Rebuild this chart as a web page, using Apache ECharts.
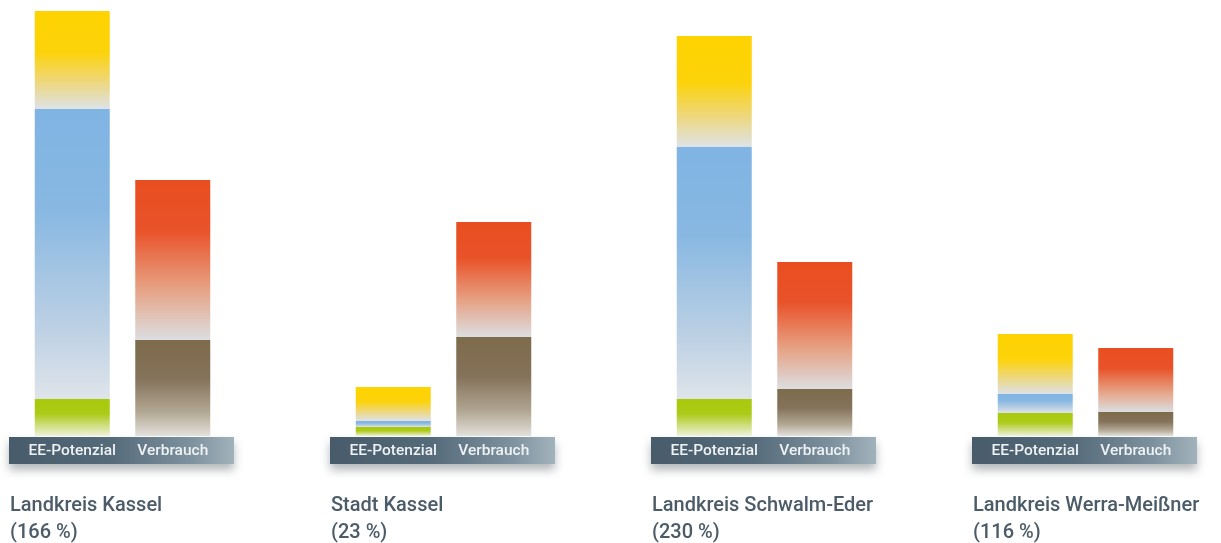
<!DOCTYPE html>
<html>
<head>
<meta charset="utf-8">
<script src="https://cdn.jsdelivr.net/npm/echarts@6/dist/echarts.min.js"></script>
<style>
  html, body { margin: 0; padding: 0; background: #ffffff; }
  #chart { width: 1221px; height: 543px; }
</style>
</head>
<body>
<div id="chart"></div>
<script>
// Regionen und Balkenkategorien
const regionen = ['Landkreis Kassel', 'Stadt Kassel', 'Landkreis Schwalm-Eder', 'Landkreis Werra-Meißner'];
const kategorien = ['EE-Potenzial', 'Verbrauch'];

// EE-Potenzial, gestapelt von unten nach oben
const eeGruen = [37, 9, 37, 23];
const eeBlau  = [290, 6, 252, 19];
const eeGelb  = [98, 34, 111, 60];

// Verbrauch, gestapelt von unten nach oben
const verbrauchBraun = [96, 99, 47, 24];
const verbrauchRot   = [160, 115, 127, 64];

const yMax = 430;

function verlauf(stops) {
  return { type: 'linear', x: 0, y: 0, x2: 0, y2: 1,
    colorStops: stops.map(s => ({ offset: s[0], color: s[1] })) };
}

const farben = {
  gelb:  verlauf([[0, '#fed300'], [0.42, '#fcd30a'], [0.72, '#eed77c'], [1, '#dde2e7']]),
  blau:  verlauf([[0, '#80b4e3'], [0.35, '#88b8e2'], [0.75, '#bcd0e4'], [1, '#dee4ea']]),
  gruen: verlauf([[0, '#a8ca0a'], [0.4, '#acca18'], [0.75, '#d3e08a'], [1, '#eef1dc']]),
  rot:   verlauf([[0, '#e84e1f'], [0.32, '#e9532a'], [0.68, '#e6a284'], [1, '#dcdee1']]),
  braun: verlauf([[0, '#7e6b4b'], [0.4, '#84725a'], [0.75, '#b2a793'], [1, '#e3e1dc']])
};

const gridLefts = [22, 343, 664, 985];
const gridWidth = 201;
const gridTop = 6;
const gridBottom = 107;

const grids = [], xAxes = [], yAxes = [], series = [], titles = [], graphics = [];

regionen.forEach((name, i) => {
  grids.push({ left: gridLefts[i], width: gridWidth, top: gridTop, bottom: gridBottom });
  xAxes.push({
    type: 'category', gridIndex: i, data: kategorien, z: 10,
    axisLine: { show: false }, axisTick: { show: false },
    axisLabel: {
      color: '#eef2f4', fontFamily: 'Roboto', fontWeight: 500, fontSize: 15.5,
      margin: 15, verticalAlign: 'middle', interval: 0
    }
  });
  yAxes.push({ type: 'value', gridIndex: i, min: 0, max: yMax, show: false, splitLine: { show: false } });

  const stack = 'stapel' + i;
  const eeSerie = (werte, farbe) => ({
    type: 'bar', xAxisIndex: i, yAxisIndex: i, stack, barWidth: 75,
    data: [werte[i], '-'], itemStyle: { color: farbe }, silent: true
  });
  const vSerie = (werte, farbe) => ({
    type: 'bar', xAxisIndex: i, yAxisIndex: i, stack, barWidth: 76,
    data: ['-', werte[i]], itemStyle: { color: farbe }, silent: true
  });
  series.push(eeSerie(eeGruen, farben.gruen));
  series.push(eeSerie(eeBlau, farben.blau));
  series.push(eeSerie(eeGelb, farben.gelb));
  series.push(vSerie(verbrauchBraun, farben.braun));
  series.push(vSerie(verbrauchRot, farben.rot));

  const ee = eeGruen[i] + eeBlau[i] + eeGelb[i];
  const v = verbrauchBraun[i] + verbrauchRot[i];
  const anteil = Math.round(ee / v * 100);

  titles.push({
    text: name + '\n(' + anteil + ' %)',
    left: gridLefts[i] - 12, top: 492, padding: 0,
    textStyle: { color: '#4b5b68', fontFamily: 'Roboto', fontWeight: 500, fontSize: 20, lineHeight: 27 }
  });

  // Beschriftungsleiste unter den Balken
  graphics.push({
    type: 'rect', z: 1,
    shape: { x: gridLefts[i] - 13, y: 437, width: 225, height: 27 },
    style: {
      fill: { type: 'linear', x: 0, y: 0, x2: 1, y2: 0,
        colorStops: [{ offset: 0, color: '#475b6a' }, { offset: 0.45, color: '#566b7a' }, { offset: 0.8, color: '#7c909d' }, { offset: 1, color: '#a2b2bb' }] },
      shadowBlur: 10, shadowOffsetY: 6, shadowColor: 'rgba(40,50,60,0.35)'
    }
  });
});

const chart = echarts.init(document.getElementById('chart'));
chart.setOption({
  animation: false,
  backgroundColor: '#ffffff',
  title: titles,
  grid: grids,
  xAxis: xAxes,
  yAxis: yAxes,
  series: series,
  graphic: { elements: graphics }
});
</script>
</body>
</html>
